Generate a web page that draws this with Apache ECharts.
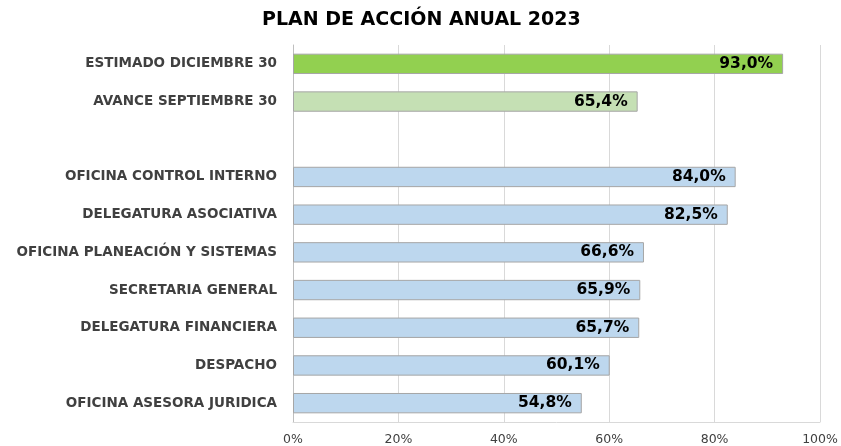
<!DOCTYPE html>
<html>
<head>
<meta charset="utf-8">
<script src="https://cdn.jsdelivr.net/npm/echarts@6/dist/echarts.min.js"></script>
<style>html,body{margin:0;padding:0;background:#fff}#c{width:841px;height:446px}</style>
</head>
<body>
<div id="c"></div>
<script>
const title = 'PLAN DE ACCIÓN ANUAL 2023';
const categories = ['ESTIMADO DICIEMBRE 30','AVANCE SEPTIEMBRE 30','','OFICINA CONTROL INTERNO','DELEGATURA ASOCIATIVA','OFICINA PLANEACIÓN Y SISTEMAS','SECRETARIA GENERAL','DELEGATURA FINANCIERA','DESPACHO','OFICINA ASESORA JURIDICA'];
const values = [93.0, 65.4, null, 84.0, 82.5, 66.6, 65.9, 65.7, 60.1, 54.8];
const barColors = ['#92D050','#C5E0B4',null,'#BDD7EE','#BDD7EE','#BDD7EE','#BDD7EE','#BDD7EE','#BDD7EE','#BDD7EE'];

const chart = echarts.init(document.getElementById('c'));
const font = '"DejaVu Sans", Verdana, sans-serif';
chart.setOption({
  animation: false,
  title: {
    text: title, left: 257, top: 6,
    textStyle: {fontFamily: font, fontSize: 19, fontWeight: 'bold', color: '#000'}
  },
  grid: {left: 293, right: 21, top: 45, bottom: 24, containLabel: false},
  xAxis: {
    type: 'value', min: 0, max: 100, interval: 20,
    axisLabel: {formatter: '{value}%', fontFamily: font, fontSize: 12.5, color: '#404040', margin: 11},
    axisLine: {show: true, lineStyle: {color: '#D9D9D9'}},
    axisTick: {show: false},
    splitLine: {show: true, lineStyle: {color: '#D9D9D9'}}
  },
  yAxis: {
    type: 'category', data: categories, inverse: true,
    axisLabel: {fontFamily: font, fontSize: 13.5, fontWeight: 'bold', color: '#404040', margin: 16},
    axisLine: {show: true, lineStyle: {color: '#BFBFBF'}},
    axisTick: {show: false}
  },
  series: [{
    type: 'bar',
    barCategoryGap: '46%',
    data: values.map((v, i) => ({value: v, itemStyle: {color: barColors[i] || '#BDD7EE'}})),
    itemStyle: {borderColor: '#A6A6A6', borderWidth: 1},
    label: {
      show: true, position: 'insideRight', distance: 10,
      formatter: p => p.value == null ? '' : p.value.toFixed(1).replace('.', ',') + '%',
      fontFamily: font, fontSize: 15.5, fontWeight: 'bold', color: '#000'
    }
  }]
});
</script>
</body>
</html>
